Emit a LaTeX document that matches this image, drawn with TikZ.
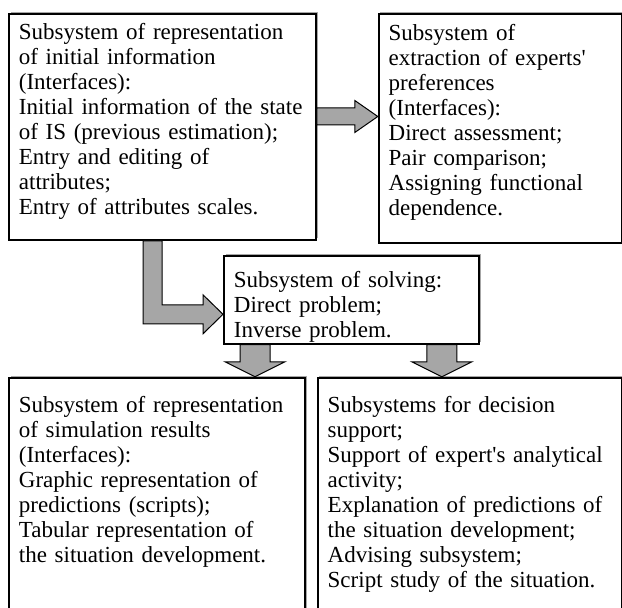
\documentclass[tikz,border=0pt]{standalone}
\usepackage{fontspec}
\setmainfont{Liberation Serif}
\usetikzlibrary{positioning,calc,shadows}

\begin{document}
\begin{tikzpicture}[
    box/.style={draw, line width=0.9pt, fill=white, align=left, inner xsep=5pt, inner ysep=0pt,
        general shadow={fill=black!35, shadow xshift=0.8pt, shadow yshift=0.8pt},
        font=\fontsize{11.5pt}{12.5pt}\selectfont},
    fatlink/.style={draw, line width=0.5pt, fill=black!35, line join=miter}
]
\useasboundingbox (0,0) rectangle (311pt,-304pt);
\clip (0,0) rectangle (311pt,-304pt);

\node[box, text width=143.5pt, text height=13pt, text depth=100pt, anchor=north west] (init) at (4pt,-6.5pt)
    {Subsystem of representation\\of initial information\\(Interfaces):\\Initial information of the state\\of IS (previous estimation);\\Entry and editing of\\attributes;\\Entry of attributes scales.};
\node[box, text width=111.5pt, text height=13.5pt, text depth=101pt, right=30.5pt of init.north east, anchor=north west] (pref)
    {Subsystem of\\extraction of experts\textquotesingle\\preferences\\(Interfaces):\\Direct assessment;\\Pair comparison;\\Assigning functional\\dependence.};
\node[box, text width=117.5pt, text height=16pt, text depth=28pt, below right=7pt and 107.5pt of init.south west] (solve)
    {Subsystem of solving:\\Direct problem;\\Inverse problem.};
\node[box, text width=138pt, text height=17.5pt, text depth=130pt, below=68pt of init.south west, anchor=north west] (simres)
    {Subsystem of representation\\of simulation results\\(Interfaces):\\Graphic representation of\\predictions (scripts);\\Tabular representation of\\the situation development.};
\node[box, text width=142pt, text height=17.5pt, text depth=130pt, right=5.5pt of simres.north east, anchor=north west] (decis)
    {Subsystems for decision\\support;\\Support of expert\textquotesingle s analytical\\activity;\\Explanation of predictions of\\the situation development;\\Advising subsystem;\\Script study of the situation.};

% block arrows
\coordinate (t1) at ($(pref.north west)+(0,-51.75pt)$);
\coordinate (s1) at (init.east |- t1);
\draw[fatlink] ($(s1)+(0,4.25pt)$) -- ($(t1)+(-11.5pt,4.25pt)$) -- ($(t1)+(-11.5pt,8pt)$) -- (t1)
    -- ($(t1)+(-11.5pt,-8pt)$) -- ($(t1)+(-11.5pt,-4.25pt)$) -- ($(s1)+(0,-4.25pt)$) -- cycle;

\coordinate (s2) at ($(init.south west)+(67.5pt,0)$);
\coordinate (t2) at ($(solve.north west)+(0,-29.75pt)$);
\coordinate (c2) at (s2 |- t2);
\draw[fatlink] (s2) -- ($(s2)+(9.5pt,0)$) -- ($(c2)+(9.5pt,4.75pt)$) -- ($(t2)+(-10pt,4.75pt)$) -- ($(t2)+(-10pt,9.75pt)$) -- (t2)
    -- ($(t2)+(-10pt,-9.75pt)$) -- ($(t2)+(-10pt,-4.75pt)$) -- ($(c2)+(0,-4.75pt)$) -- cycle;

\coordinate (s3) at ($(solve.south west)+(16pt,0)$);
\coordinate (t3) at (s3 |- simres.north);
\coordinate (s4) at ($(solve.south east)+(-19pt,0)$);
\coordinate (t4) at (s4 |- decis.north);
\foreach \s/\t in {s3/t3,s4/t4}
    \draw[fatlink] ($(\s)+(-7.5pt,0)$) -- ($(\t)+(-7.5pt,7.5pt)$) -- ($(\t)+(-15pt,7.5pt)$) -- (\t)
        -- ($(\t)+(15pt,7.5pt)$) -- ($(\t)+(7.5pt,7.5pt)$) -- ($(\s)+(7.5pt,0)$) -- cycle;
\end{tikzpicture}
\end{document}
